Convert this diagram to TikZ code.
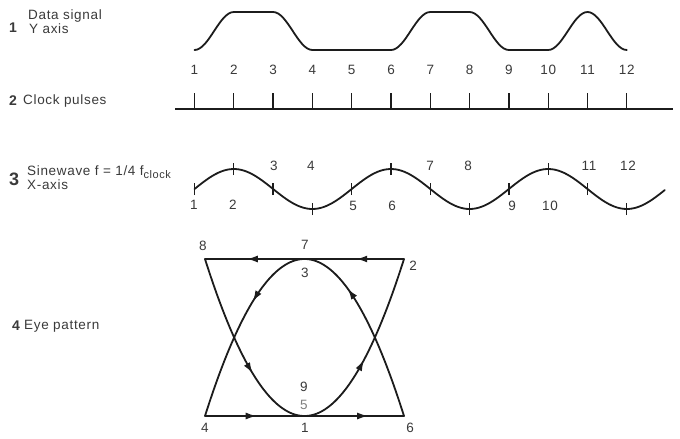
\documentclass[tikz,border=0pt]{standalone}
\usepackage{fontspec}
\setmainfont[LetterSpace=5]{Liberation Sans}
\usetikzlibrary{arrows.meta,decorations.markings}
\definecolor{inkc}{HTML}{1C1C1C}
\definecolor{txtc}{HTML}{3A3A3A}
\begin{document}
\begin{tikzpicture}[x=1pt,y=-1pt,
  ink/.style={draw=inkc,line width=1.8pt,line cap=round,line join=round},
  thinink/.style={draw=inkc,line width=1.3pt},
  lbl/.style={text=txtc,font=\fontsize{13.5}{16}\selectfont,inner sep=0pt},
  ttl/.style={lbl,anchor=west},
  secn/.style={text=txtc,font=\fontsize{14}{16}\selectfont\bfseries,inner sep=0pt,anchor=west},
  midarr/.style={postaction={decorate},decoration={markings,mark=at position #1 with {\arrow{Latex[length=11pt,width=7pt]}}}},
  twoarr/.style 2 args={postaction={decorate},decoration={markings,mark=at position #1 with {\arrow{Latex[length=11pt,width=7pt]}},mark=at position #2 with {\arrow{Latex[length=11pt,width=7pt]}}}}
]
\useasboundingbox (0,0) rectangle (680,439);
\fill[white] (0,0) rectangle (680,439);

% ---------- left captions ----------
\node[secn] (n1) at (9,28) {1};
\node[ttl] (t1a) at (28,16) {Data signal};
\node[ttl] (t1b) at (29,29) {Y axis};
\node[secn] (n2) at (9,101) {2};
\node[ttl] (t2) at (23,101) {Clock pulses};
\node[secn,font=\fontsize{18}{20}\selectfont\bfseries] (n3) at (9,179) {3};
\node[ttl] (t3a) at (27,172) {Sinewave f = 1/4 f\raisebox{-3pt}{\fontsize{11}{12}\selectfont clock}};
\node[ttl] (t3b) at (27,185) {X-axis};
\node[secn] (n4) at (12,326) {4};
\node[ttl] (t4) at (24,326) {Eye pattern};

% ---------- 1 data signal ----------
\draw[ink] (194.5,50) .. controls (208.8,50) and (219.5,12) .. (233.8,12) -- (273.1,12)
  .. controls (287.4,12) and (298.1,50) .. (312.4,50) -- (391.0,50)
  .. controls (405.3,50) and (416.0,12) .. (430.3,12) -- (469.6,12)
  .. controls (483.9,12) and (494.6,50) .. (508.9,50) -- (548.2,50)
  .. controls (562.5,50) and (573.2,12) .. (587.5,12)
  .. controls (601.8,12) and (612.5,50) .. (626.8,50);
\foreach \i in {1,...,12}{
  \node[lbl] (d\i) at ({194.5+39.3*(\i-1)},70) {\i};
}

% ---------- 2 clock pulses ----------
\coordinate (cl0) at (175,109);
\coordinate (cl1) at (673,109);
\draw[thinink] (cl0) -- (cl1);
\foreach \i in {1,...,12}{
  \coordinate (ck\i) at ({194.5+39.3*(\i-1)},109);
  \draw[thinink] (ck\i) -- ++(0,-16);
}

% ---------- 3 sinewave ----------
\draw[ink] plot[domain=0:2.993,samples=160] ({194.5+157.2*\x},{189-20*sin(360*\x)});
\foreach \i in {1,...,12}{
  \coordinate (s\i) at ({194.5+39.3*(\i-1)},{189-20*sin(90*(\i-1))});
  \draw[thinink] ([yshift=-6pt]s\i) -- ([yshift=6pt]s\i);
}
\node[lbl] (sl1) at (194,205) {1};
\node[lbl] (sl2) at (233,205) {2};
\node[lbl] (sl3) at (274,166) {3};
\node[lbl] (sl4) at (311,166) {4};
\node[lbl] (sl5) at (353,206) {5};
\node[lbl] (sl6) at (392,206) {6};
\node[lbl] (sl7) at (430,166) {7};
\node[lbl] (sl8) at (468,166) {8};
\node[lbl] (sl9) at (512,206) {9};
\node[lbl] (sl10) at (550,206) {10};
\node[lbl] (sl11) at (589,166) {11};
\node[lbl] (sl12) at (628,166) {12};

% ---------- 4 eye pattern ----------
\coordinate (TL) at (205,259);
\coordinate (TR) at (404,259);
\coordinate (BL) at (205,416);
\coordinate (BR) at (404,416);
\draw[ink,twoarr={0.24}{0.79}] (TR) -- (TL);
\draw[ink,twoarr={0.26}{0.82}] (BL) -- (BR);
% arch (3 -> 4), left branch, moving down-left
\draw[ink,midarr=0.36] plot[domain=0:1,samples=50] ({304.5-99.5*\x},{259+157*\x*\x});
% arch right branch (6 -> 7), moving up
\draw[ink,midarr=0.72] plot[domain=0:1,samples=50] ({304.5+99.5*(1-\x)},{259+157*(1-\x)*(1-\x)});
% U left branch (8 -> 9), moving down-right
\draw[ink,midarr=0.64] plot[domain=0:1,samples=50] ({304.5-99.5*(1-\x)},{416-157*(1-\x)*(1-\x)});
% U right branch (1 -> 2), moving up-right
\draw[ink,midarr=0.44] plot[domain=0:1,samples=50] ({304.5+99.5*\x},{416-157*\x*\x});

\node[lbl] (e8) at (203,246) {8};
\node[lbl] (e7) at (305,245) {7};
\node[lbl] (e3) at (305,273) {3};
\node[lbl] (e2) at (413,266) {2};
\node[lbl] (e9) at (304,387) {9};
\node[lbl,text=gray] (e5) at (304,405) {5};
\node[lbl] (e4) at (205,428) {4};
\node[lbl] (e1) at (305,428) {1};
\node[lbl] (e6) at (410,428) {6};
\end{tikzpicture}
\end{document}
